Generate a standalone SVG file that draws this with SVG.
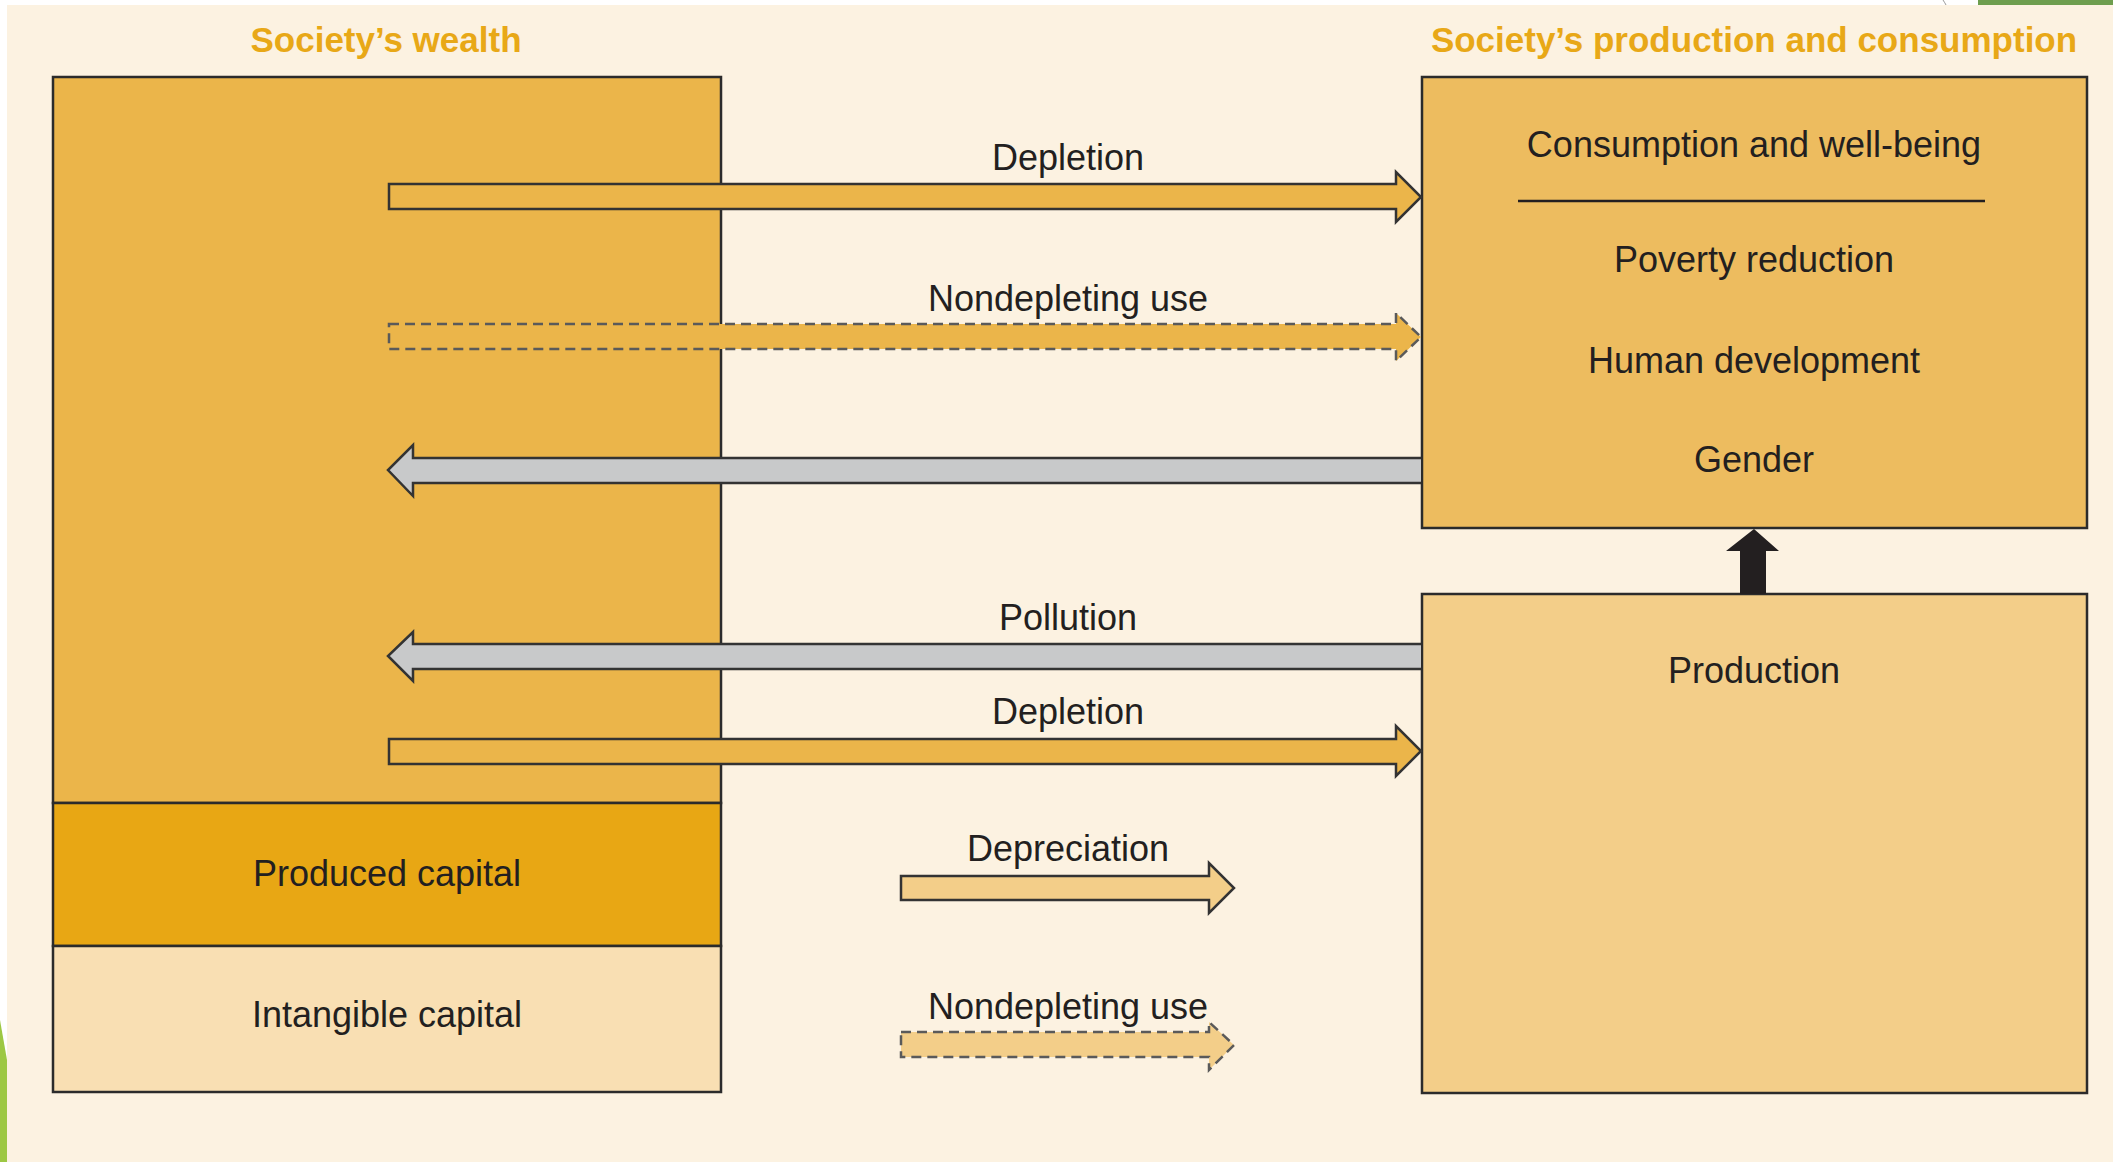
<svg xmlns="http://www.w3.org/2000/svg" width="2113" height="1162" viewBox="0 0 2113 1162">
<defs>
<style>
.box{stroke:#2b2b2b;stroke-width:2.5}
.arr{stroke:#333;stroke-width:2.5;stroke-linejoin:miter}
.dash{stroke:#5a5a5a;stroke-width:2.5;stroke-dasharray:10 6}
.t{font-family:"Liberation Sans",Arial,sans-serif;font-size:36px;fill:#231F20;text-anchor:middle}
.title{font-family:"Liberation Sans",Arial,sans-serif;font-size:35px;font-weight:bold;fill:#E8A817;text-anchor:middle}
</style>
</defs>
<rect x="0" y="0" width="2113" height="1162" fill="#FFFFFF"/>
<rect x="7" y="5" width="2106" height="1157" fill="#FCF2E1"/>
<path d="M0,1020 L7,1060 L7,1162 L0,1162 Z" fill="#9DC843"/>
<path d="M1978,0 H2113 V5 H1978 Z" fill="#6E9E4E"/>
<path d="M1943,0 Q1945,3 1946,5" fill="none" stroke="#999" stroke-width="1"/>

<g id="title-wealth"><text class="title" x="386" y="52">Society’s wealth</text></g>
<g id="title-production"><text class="title" x="1754" y="52">Society’s production and consumption</text></g>

<g id="wealth">
<rect class="box" x="53" y="77" width="668" height="726" fill="#EBB54A"/>
</g>
<g id="produced-capital">
<rect class="box" x="53" y="803" width="668" height="143" fill="#E8A714"/>
<text class="t" x="387" y="886">Produced capital</text>
</g>
<g id="intangible-capital">
<rect class="box" x="53" y="946" width="668" height="146" fill="#F9DFB3"/>
<text class="t" x="387" y="1027">Intangible capital</text>
</g>

<g id="consumption">
<rect class="box" x="1422" y="77" width="665" height="451" fill="#EDBC5F"/>
<text class="t" x="1754" y="157" font-size="37">Consumption and well-being</text>
<line x1="1518" y1="201" x2="1985" y2="201" stroke="#231F20" stroke-width="2.5"/>
<text class="t" x="1754" y="272">Poverty reduction</text>
<text class="t" x="1754" y="373">Human development</text>
<text class="t" x="1754" y="472">Gender</text>
</g>
<g id="production">
<rect class="box" x="1422" y="594" width="665" height="499" fill="#F3CE89"/>
<text class="t" x="1754" y="683">Production</text>
</g>

<g id="connectors">
<path class="arr" d="M389,184 H1396 V172 L1421,197 L1396,222 V209 H389 Z" fill="#EBB54A"/>
<text class="t" x="1068" y="170">Depletion</text>
<path class="dash" d="M389,324 H1396 V313 L1421,337 L1396,361 V349 H389 Z" fill="#EBB54A"/>
<text class="t" x="1068" y="311">Nondepleting use</text>
<path class="arr" d="M1421,458 H413 V445 L388,470 L413,496 V483 H1421" fill="#C8C9CA"/>
<path class="arr" d="M1421,644 H413 V632 L388,656 L413,681 V669 H1421" fill="#C8C9CA"/>
<text class="t" x="1068" y="630">Pollution</text>
<path class="arr" d="M389,739 H1396 V726 L1421,751 L1396,776 V764 H389 Z" fill="#EBB54A"/>
<text class="t" x="1068" y="724">Depletion</text>
<path class="arr" d="M901,876 H1209 V863 L1234,888 L1209,913 V900 H901 Z" fill="#F3CE89"/>
<text class="t" x="1068" y="861">Depreciation</text>
<path class="dash" d="M901,1032 H1209 V1022 L1234,1045 L1209,1070 V1057 H901 Z" fill="#F3CE89"/>
<text class="t" x="1068" y="1019">Nondepleting use</text>
<path d="M1740,594 V551 H1726 L1754,529 L1779,551 H1766 V594 Z" fill="#231F20"/>
</g>
</svg>
